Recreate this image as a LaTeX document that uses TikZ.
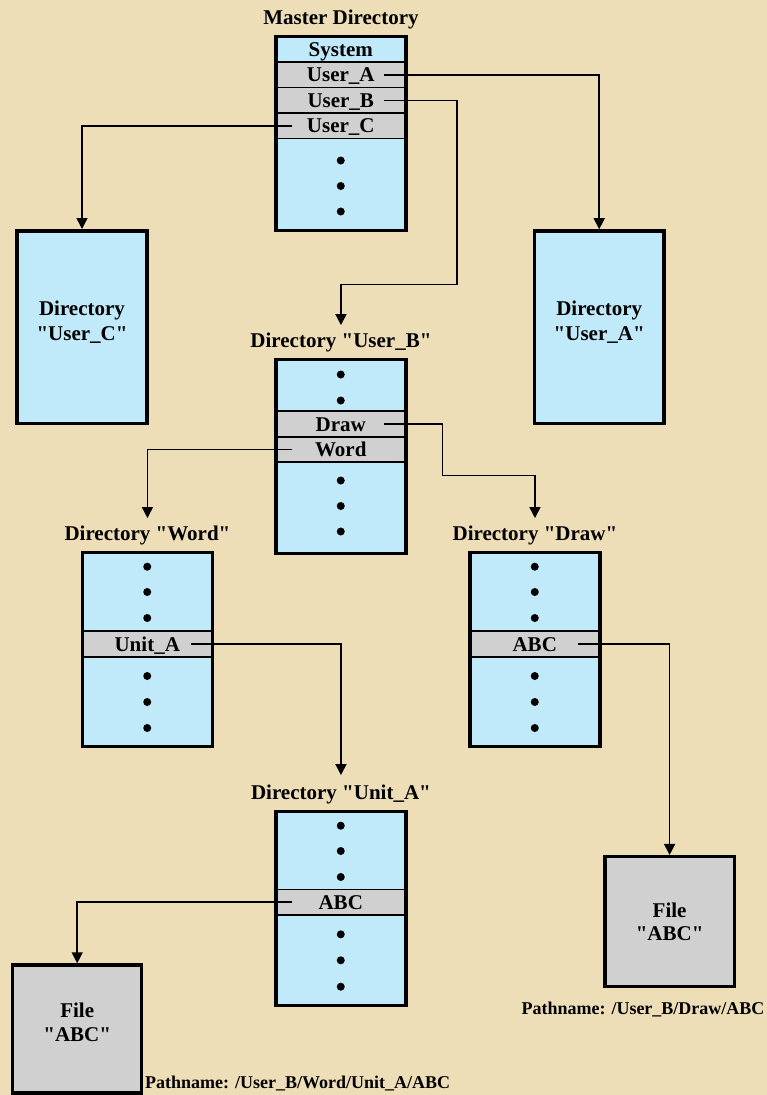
\documentclass[tikz,border=0pt]{standalone}
\usepackage{fontspec}
\setmainfont{Liberation Serif}[Ligatures=TeXOff]
\usetikzlibrary{arrows.meta,positioning}

\definecolor{parchment}{RGB}{238,222,184}
\definecolor{dirblue}{RGB}{192,234,250}
\definecolor{entrygray}{RGB}{208,208,208}

\begin{document}
\begin{tikzpicture}
[x=1pt,y=-1pt,
 every node/.style={inner sep=0pt,font=\fontsize{21}{25}\selectfont\bfseries},
 dir/.style={rectangle,fill=dirblue,minimum width=129.5pt,minimum height=193.5pt,anchor=north west},
 frame/.style={draw=black,line width=3.5pt},
 entry/.style={rectangle,draw=black,line width=1.8pt,fill=entrygray,
   minimum width=129.5pt,minimum height=25.5pt,text height=14pt,text depth=0pt},
 dot/.style={circle,fill=black,minimum size=8pt},
 title/.style={text height=14pt,text depth=0pt},
 box/.style={rectangle,frame,align=center},
 pathname/.style={font=\fontsize{18}{20}\selectfont\bfseries},
 link/.style={line width=1.5pt},
 ptr/.style={link,-{Triangle[width=11pt,length=11pt]}}]

\fill [parchment] (0,0) rectangle (767,1095);
\useasboundingbox (0,0) rectangle (767,1095);

% master directory
\begin{scope}[shift={(276,36.5)}]
  \node [dir] (mdir) at (0,0) {};
  \node [entry,fill=dirblue] (msys) at (64.75,12.75) {System};
  \node [entry] (ma) at (64.75,38.25) {User\_A};
  \node [entry] (mb) at (64.75,63.75) {User\_B};
  \node [entry] (mc) at (64.75,89.25) {User\_C};
  \foreach \y [count=\i] in {124,149.5,175}
    \node [dot] (mdot\i) at (64.75,\y) {};
  \draw [frame] (mdir.north west) rectangle (mdir.south east);
  \node [title,above=12pt of mdir] (mtitle) {Master Directory};
\end{scope}

\node [box,fill=dirblue,minimum width=130pt,minimum height=192.5pt,
  text height=40pt,text depth=14pt] (cdir) at (82,327) {Directory\\"User\_C"};
\node [box,fill=dirblue,minimum width=129.5pt,minimum height=192.5pt,
  text height=40pt,text depth=14pt] (adir) at (599.2,327.2) {Directory\\"User\_A"};

% directory User_B
\begin{scope}[shift={(276,359.5)}]
  \node [dir] (bdir) at (0,0) {};
  \node [entry] (bdraw) at (64.75,64.5) {Draw};
  \node [entry] (bword) at (64.75,90) {Word};
  \foreach \y [count=\i] in {15,41,121,146.5,172}
    \node [dot] (bdot\i) at (64.75,\y) {};
  \draw [frame] (bdir.north west) rectangle (bdir.south east);
  \node [title,above=12pt of bdir] (btitle) {Directory "User\_B"};
\end{scope}

% directory Word
\begin{scope}[shift={(82.5,552.5)}]
  \node [dir] (wdir) at (0,0) {};
  \node [entry] (wunit) at (64.75,91.5) {Unit\_A};
  \foreach \y [count=\i] in {14.2,39.5,65.5,123.5,149.5,175.5}
    \node [dot] (wdot\i) at (64.75,\y) {};
  \draw [frame] (wdir.north west) rectangle (wdir.south east);
  \node [title,above=12pt of wdir] (wtitle) {Directory "Word"};
\end{scope}

% directory Draw
\begin{scope}[shift={(470,552.5)}]
  \node [dir] (drdir) at (0,0) {};
  \node [entry] (drabc) at (64.75,91.5) {ABC};
  \foreach \y [count=\i] in {14.2,39.5,65.5,123.5,149.5,175.5}
    \node [dot] (drdot\i) at (64.75,\y) {};
  \draw [frame] (drdir.north west) rectangle (drdir.south east);
  \node [title,above=12pt of drdir] (drtitle) {Directory "Draw"};
\end{scope}

% directory Unit_A
\begin{scope}[shift={(276,811.5)}]
  \node [dir] (udir) at (0,0) {};
  \node [entry] (uabc) at (64.75,90.7) {ABC};
  \foreach \y [count=\i] in {14.2,39.5,65.5,122.8,148.8,175.2}
    \node [dot] (udot\i) at (64.75,\y) {};
  \draw [frame] (udir.north west) rectangle (udir.south east);
  \node [title,above=12pt of udir] (utitle) {Directory "Unit\_A"};
\end{scope}

% files
\node [box,fill=entrygray,minimum width=129.3pt,minimum height=130pt,
  font=\fontsize{21}{23}\selectfont\bfseries] (rfile) at (669.6,921.7) {File\\"ABC"};
\node [box,fill=entrygray,minimum width=129pt,minimum height=128pt,
  font=\fontsize{21}{24}\selectfont\bfseries,text height=38pt,text depth=14pt]
  (lfile) at (77.2,1029) {File\\"ABC"};
\node [pathname] (rpath) at (643,1009.3) {Pathname: /User\_B/Draw/ABC};
\node [pathname,anchor=west] (lpath) at (145,1083) {Pathname: /User\_B/Word/Unit\_A/ABC};

% pointers
\coordinate (bturn) at (457,284.5);
\coordinate (dturn) at (442.5,475.7);
\draw [ptr] ([xshift=-22pt]ma.east) -| (adir.north);
\draw [ptr] ([xshift=17pt]mc.west) -| (cdir.north);
\draw [ptr] ([xshift=-22pt]mb.east) -| (bturn) -| ([yshift=8pt]btitle.north);
\draw [ptr] ([xshift=-22pt]bdraw.east) -| (dturn) -| ([yshift=8pt]drtitle.north);
\draw [ptr] ([xshift=17pt]bword.west) -| ([yshift=8pt]wtitle.north);
\draw [ptr] ([xshift=-22pt]wunit.east) -| ([yshift=10pt]utitle.north);
\draw [ptr] ([xshift=17pt]uabc.west) -| (lfile.north);
\draw [ptr] ([xshift=-22pt]drabc.east) -| (rfile.north);
\end{tikzpicture}
\end{document}
